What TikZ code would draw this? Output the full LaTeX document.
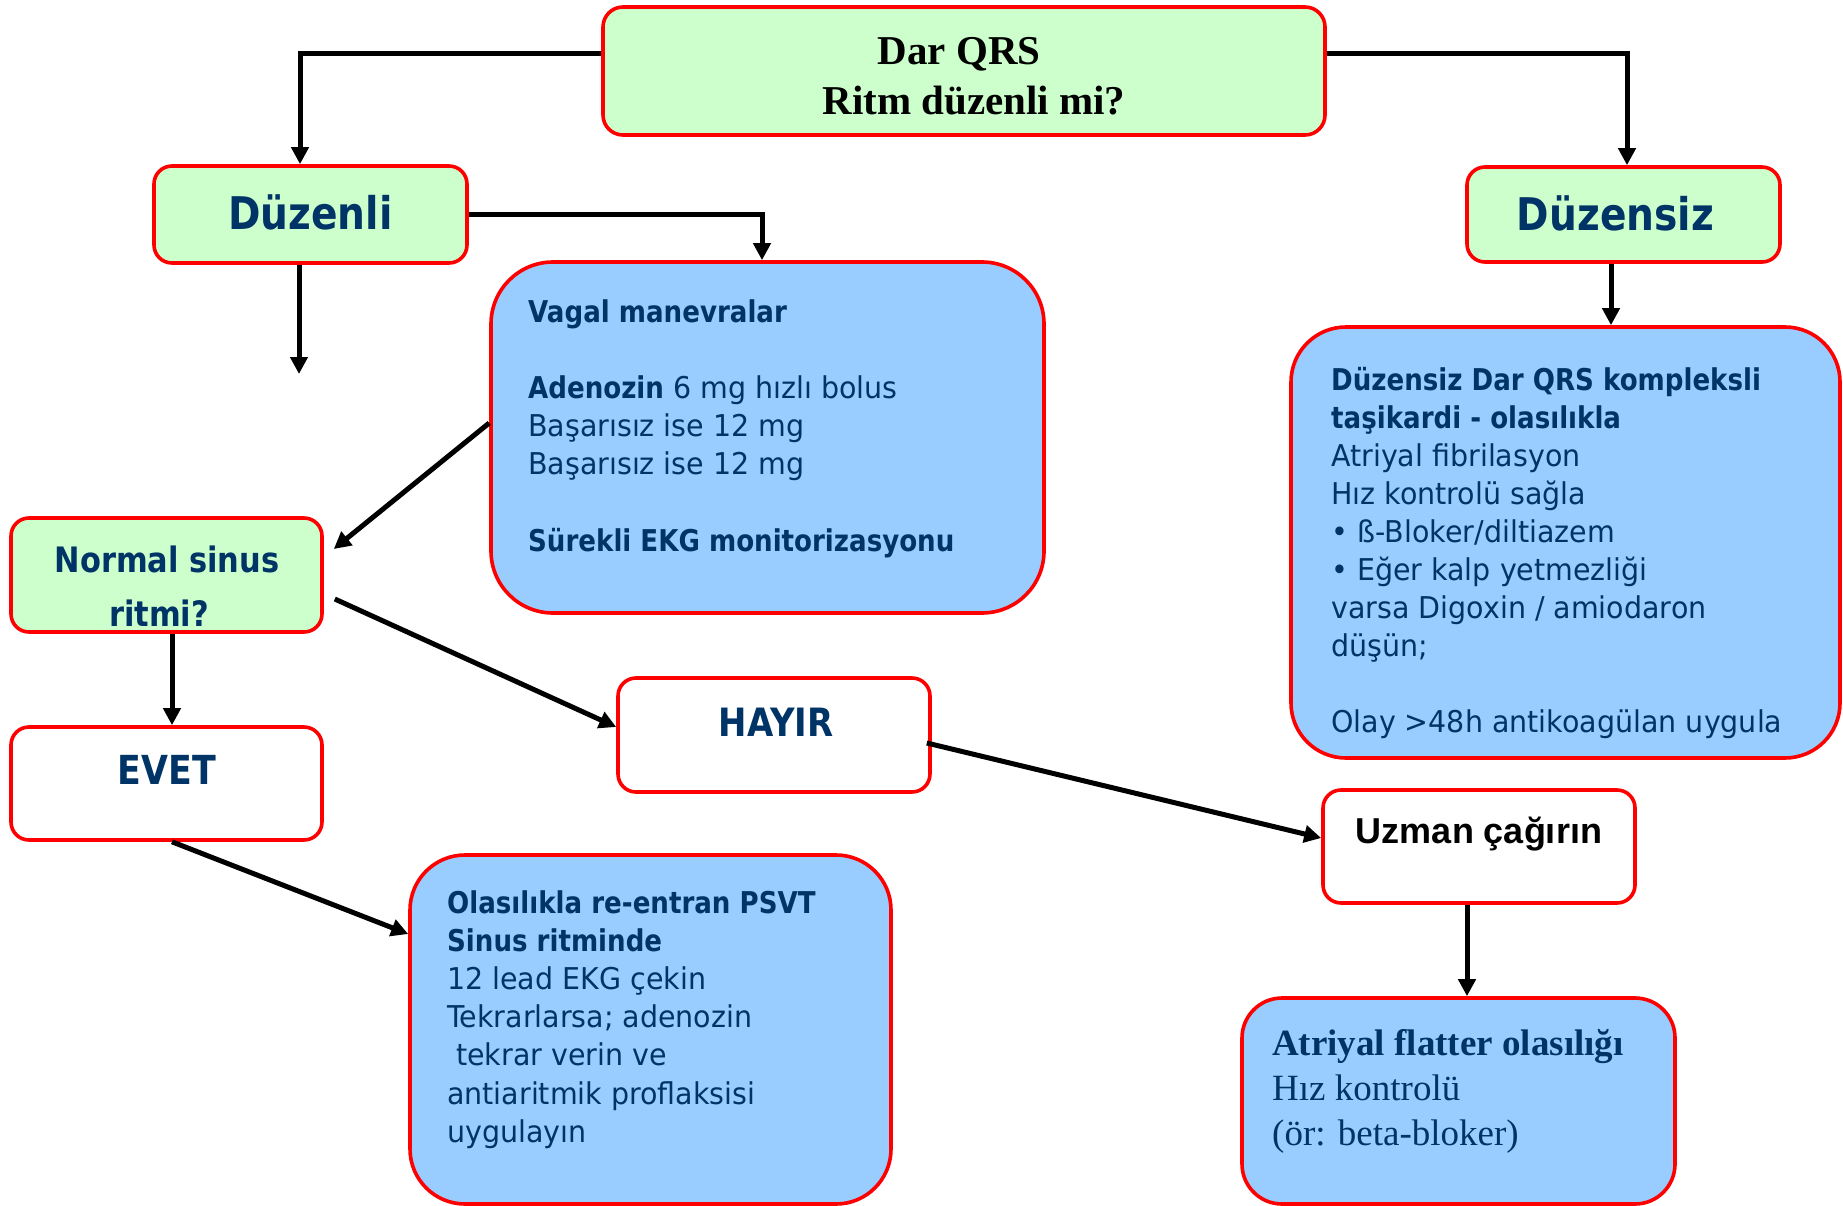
\documentclass[tikz,border=0pt]{standalone}
\usepackage{fontspec}
\usetikzlibrary{arrows.meta}
% Sans text: a narrowed DejaVu Sans, bold narrowed a little more
\newfontfamily\regf[FakeStretch=0.95]{DejaVu Sans}
\newfontfamily\boldf[FakeStretch=0.87]{DejaVu Sans}
\newfontfamily\tnr{Liberation Serif}
\newfontfamily\arl{Liberation Sans}
\definecolor{txtblue}{HTML}{003366}
\definecolor{greenfill}{HTML}{CCFFCC}
\definecolor{bluefill}{HTML}{99CCFF}
\definecolor{boxred}{HTML}{FF0000}
\newcommand\bt[1]{{\boldf\bfseries #1}}
% stacked lines with a fixed baseline distance; the first line is the baseline
\newcommand\linestack[2]{\vtop{\baselineskip=#1\lineskiplimit=-100pt\lineskip=0pt #2}}
\begin{document}
\begin{tikzpicture}[x=1pt,y=-1pt,
  box/.style={draw=boxred, line width=3.6pt, rectangle, inner sep=0pt},
  gbox/.style={box, fill=greenfill, rounded corners=18pt},
  wbox/.style={box, fill=white, rounded corners=18pt},
  bbox/.style={box, fill=bluefill},
  arr/.style={line width=5pt, -{Triangle[length=17pt,width=17pt]}},
  lbl/.style={inner sep=0pt, anchor=base, text=txtblue},
  para/.style={inner sep=0pt, anchor=base west, text=txtblue}]
\useasboundingbox (0,0) rectangle (1843,1206);

% ---- boxes ----
\node[gbox, rounded corners=20pt, minimum width=722pt, minimum height=128pt] (top) at (964,71) {};
\node[gbox, minimum width=313pt, minimum height=97pt] (duzenli) at (310.5,214.5) {};
\node[gbox, minimum width=313pt, minimum height=95pt] (duzensiz) at (1623.5,214.5) {};
\node[bbox, rounded corners=62pt, minimum width=553pt, minimum height=351pt] (vagal) at (767.5,437.5) {};
\node[gbox, minimum width=311pt, minimum height=114pt] (nsr) at (166.5,575) {};
\node[wbox, minimum width=311pt, minimum height=113pt] (evet) at (166.5,783.5) {};
\node[wbox, minimum width=312pt, minimum height=114pt] (hayir) at (774,735) {};
\node[wbox, minimum width=312pt, minimum height=113pt] (uzman) at (1479,846.5) {};
\node[bbox, rounded corners=55pt, minimum width=481pt, minimum height=349pt] (psvt) at (650.5,1029.5) {};
\node[bbox, rounded corners=55pt, minimum width=549pt, minimum height=431pt] (afib) at (1565.5,542.5) {};
\node[bbox, rounded corners=40pt, minimum width=433pt, minimum height=206pt] (flutter) at (1458.5,1101) {};

% ---- labels ----
\node[lbl, text=black, font=\tnr\bfseries\fontsize{41}{49}\selectfont] (t1) at (959,65) {Dar QRS};
\node[lbl, text=black, font=\tnr\bfseries\fontsize{41}{49}\selectfont] (t2) at (974,115) {Ritm düzenli mi?};
\node[lbl, font=\boldf\bfseries\fontsize{45}{54}\selectfont] (duzenlit) at (310.5,230) {Düzenli};
\node[lbl, font=\boldf\bfseries\fontsize{45}{54}\selectfont] (duzensizt) at (1615.5,231) {Düzensiz};
\node[lbl, font=\boldf\bfseries\fontsize{35}{42}\selectfont] (nsrt1) at (167,572) {Normal sinus};
\node[lbl, font=\boldf\bfseries\fontsize{35}{42}\selectfont] (nsrt2) at (159,626) {ritmi?};
\node[lbl, font=\boldf\bfseries\fontsize{40}{48}\selectfont] (evett) at (167,784) {EVET};
\node[lbl, font=\boldf\bfseries\fontsize{39}{47}\selectfont] (hayirt) at (776,736) {HAYIR};
\node[lbl, text=black, font=\arl\bfseries\fontsize{36}{43}\selectfont] (uzmant) at (1479,843) {Uzman çağırın};

\node[para, font=\regf\fontsize{30}{38}\selectfont] (vagalt) at (528,322) {\linestack{38.2pt}{%
  \hbox{\bt{Vagal manevralar}}
  \hbox{}
  \hbox{\bt{Adenozin} 6 mg hızlı bolus}
  \hbox{Başarısız ise 12 mg}
  \hbox{Başarısız ise 12 mg}
  \hbox{}
  \hbox{\bt{Sürekli EKG monitorizasyonu}}}};

\node[para, font=\regf\fontsize{30}{38}\selectfont] (psvtt) at (447,913) {\linestack{38.2pt}{%
  \hbox{\bt{Olasılıkla re-entran PSVT}}
  \hbox{\bt{Sinus ritminde}}
  \hbox{12 lead EKG çekin}
  \hbox{Tekrarlarsa; adenozin}
  \hbox{\ tekrar verin ve}
  \hbox{antiaritmik proflaksisi}
  \hbox{uygulayın}}};

\node[para, font=\regf\fontsize{30}{38}\selectfont] (afibt) at (1331,390) {\linestack{38pt}{%
  \hbox{\bt{Düzensiz Dar QRS kompleksli}}
  \hbox{\bt{taşikardi - olasılıkla}}
  \hbox{Atriyal fibrilasyon}
  \hbox{Hız kontrolü sağla}
  \hbox{• ß-Bloker/diltiazem}
  \hbox{• Eğer kalp yetmezliği}
  \hbox{varsa Digoxin / amiodaron}
  \hbox{düşün;}
  \hbox{}
  \hbox{Olay >48h antikoagülan uygula}}};

\node[para, font=\tnr\fontsize{37}{45}\selectfont] (fluttert) at (1272,1055) {\linestack{45pt}{%
  \hbox{\bfseries Atriyal flatter olasılığı}
  \hbox{Hız kontrolü}
  \hbox{(ör: beta-bloker)}}};

% ---- connectors ----
\coordinate (dzend) at (299,374);
\draw[arr] ([yshift=17pt]top.west) -| ([xshift=-10.5pt]duzenli.north);
\draw[arr] ([yshift=17pt]top.east) -| ([xshift=3.5pt]duzensiz.north);
\draw[arr] (duzenli.east) -| ([xshift=-5.5pt]vagal.north);
\draw[arr] ([xshift=-11.5pt]duzenli.south) -- (dzend);
\draw[arr] ([yshift=14.5pt]vagal.west) -- ([xshift=10pt,yshift=26pt]nsr.east);
\draw[arr] ([xshift=5.5pt]nsr.south) -- ([xshift=5.5pt]evet.north);
\draw[arr] ([xshift=11pt,yshift=-24pt]nsr.east) -- ([yshift=8pt]hayir.west);
\draw[arr] ([xshift=-5pt,yshift=-8pt]hayir.east) -- ([yshift=8.5pt]uzman.west);
\draw[arr] ([xshift=-12pt]uzman.south) -- ([xshift=8.5pt]flutter.north);
\draw[arr] ([xshift=5.5pt]evet.south) -- ([yshift=95.5pt]psvt.west);
\draw[arr] ([xshift=-12.5pt]duzensiz.south) -- ([xshift=45.5pt]afib.north);
\end{tikzpicture}
\end{document}
